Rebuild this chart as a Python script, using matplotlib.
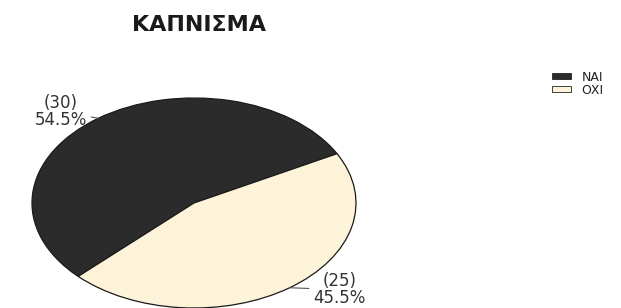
import matplotlib.pyplot as plt
import matplotlib.patches as mpatches
import numpy as np

# data
labels = ['ΝΑΙ', 'ΟΧΙ']
counts = [30, 25]
pct_text = ['54.5%', '45.5%']
colors = ['#2b2b2b', '#fdf3d9']
title = 'ΚΑΠΝΙΣΜΑ'

fig = plt.figure(figsize=(6.21, 3.08), dpi=100)
fig.patch.set_facecolor('white')

# pie is drawn stretched (wider than high) like the original
ax = fig.add_axes([32 / 621, 0, 324 / 621, 210 / 308])
wedges, _ = ax.pie(counts, colors=colors, startangle=28, counterclock=True,
                   wedgeprops=dict(edgecolor='#1a1a1a', linewidth=0.9))
ax.set_aspect('auto')
ax.set_xlim(-1, 1)
ax.set_ylim(-1, 1)
ax.axis('off')

# slice labels with short leader lines
text_pos = [(-0.66, 0.87, 'right', 'center'), (0.735, -0.66, 'left', 'top')]
for w, c, p, (tx, ty, ha, va) in zip(wedges, counts, pct_text, text_pos):
    mid = np.deg2rad((w.theta1 + w.theta2) / 2)
    ax.annotate('(%d)\n%s' % (c, p), xy=(np.cos(mid), np.sin(mid)),
                xytext=(tx, ty), ha=ha, va=va, multialignment='center',
                fontsize=12, color='#333333', linespacing=0.9,
                annotation_clip=False,
                arrowprops=dict(arrowstyle='-', color='#555555', lw=0.8,
                                shrinkA=1, shrinkB=0))

fig.text(199 / 621, 1 - 25 / 308, title, ha='center', va='center',
         fontsize=16, fontweight='bold', color='#1a1a1a')

handles = [mpatches.Patch(facecolor=col, edgecolor='#222222', linewidth=0.6)
           for col in colors]
fig.legend(handles, labels, loc='upper left',
           bbox_to_anchor=(543 / 621, 1 - 62 / 308), frameon=False,
           fontsize=9, handlelength=1.5, handleheight=0.4,
           handletextpad=0.9, labelspacing=0.0, borderpad=0.2,
           labelcolor='#222222')

fig.savefig('out.png', dpi=100, facecolor='white')
